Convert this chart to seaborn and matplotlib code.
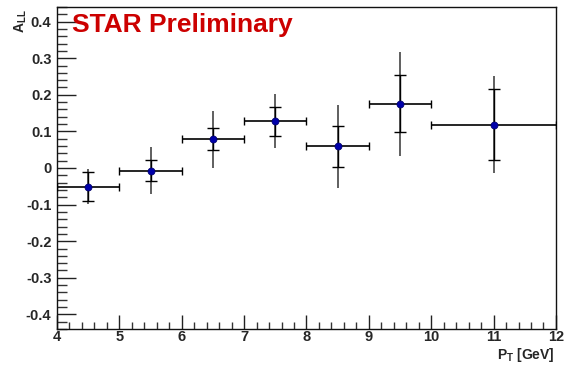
import numpy as np
import pandas as pd
import matplotlib
matplotlib.use("Agg")
import matplotlib.pyplot as plt
import seaborn as sns
from matplotlib.ticker import MultipleLocator

# values
pt = [4.5, 5.5, 6.5, 7.5, 8.5, 9.5, 11.0]
pt_halfwidth = [0.5, 0.5, 0.5, 0.5, 0.5, 0.5, 1.0]
a_ll = [-0.051, -0.007, 0.078, 0.128, 0.059, 0.175, 0.118]
stat_err = [0.040, 0.028, 0.030, 0.040, 0.057, 0.078, 0.097]
total_err = [0.048, 0.065, 0.077, 0.074, 0.113, 0.141, 0.133]

df = pd.DataFrame({'pt': pt, 'A_LL': a_ll})

sns.set_style('ticks')
plt.rcParams['font.family'] = ['Liberation Sans', 'DejaVu Sans']
plt.rcParams['font.weight'] = 'bold'

fig = plt.figure(figsize=(5.67, 3.66), dpi=100)
ax = fig.add_axes([0.1005, 0.101, 0.880, 0.880])

# outer error (no caps)
ax.errorbar(pt, a_ll, yerr=total_err, fmt='none', ecolor='#444444',
            elinewidth=1.2, capsize=0, zorder=2)
# inner error with small caps
ax.errorbar(pt, a_ll, yerr=stat_err, fmt='none', ecolor='black',
            elinewidth=1.0, capsize=4, capthick=1.0, zorder=3)
# bin width
ax.errorbar(pt, a_ll, xerr=pt_halfwidth, fmt='none', ecolor='black',
            elinewidth=1.2, capsize=3, capthick=1.0, zorder=3)
sns.scatterplot(data=df, x='pt', y='A_LL', ax=ax, color='#0000aa',
                s=26, edgecolor='#000066', linewidth=0.5, zorder=4)

ax.set_xlim(4, 12)
ax.set_ylim(-0.44, 0.44)
ax.xaxis.set_major_locator(MultipleLocator(1))
ax.xaxis.set_minor_locator(MultipleLocator(0.2))
ax.yaxis.set_major_locator(MultipleLocator(0.1))
ax.yaxis.set_minor_locator(MultipleLocator(0.02))
ax.yaxis.set_major_formatter(lambda v, p: '0' if abs(v) < 1e-9 else '%g' % round(v, 2))

ax.tick_params(which='major', direction='in', length=14, width=1.0,
               labelsize=10.5, top=False, right=False, pad=4, color='#222222')
ax.tick_params(which='minor', direction='in', length=7, width=1.0,
               top=False, right=False, color='#333333')
ax.tick_params(axis='x', which='major', length=10, pad=1)
ax.tick_params(axis='x', which='minor', length=5)
for lab in ax.get_xticklabels() + ax.get_yticklabels():
    lab.set_fontweight('bold')

for sp in ax.spines.values():
    sp.set_linewidth(1.0)
    sp.set_color('#111111')

ax.set_xlabel('')
ax.set_ylabel('')
fig.text(0.979, 0.006, r'P$_\mathregular{T}$ [GeV]', ha='right', va='bottom',
         fontsize=10, fontweight='bold')
fig.text(0.037, 0.975, r'A$_\mathregular{LL}$', ha='center', va='top',
         rotation=90, fontsize=10, fontweight='bold')
ax.text(0.03, 0.98, 'STAR Preliminary', transform=ax.transAxes,
        ha='left', va='top', fontsize=19, fontweight='bold', color='#cc0000')

fig.savefig('out.png', dpi=100)
